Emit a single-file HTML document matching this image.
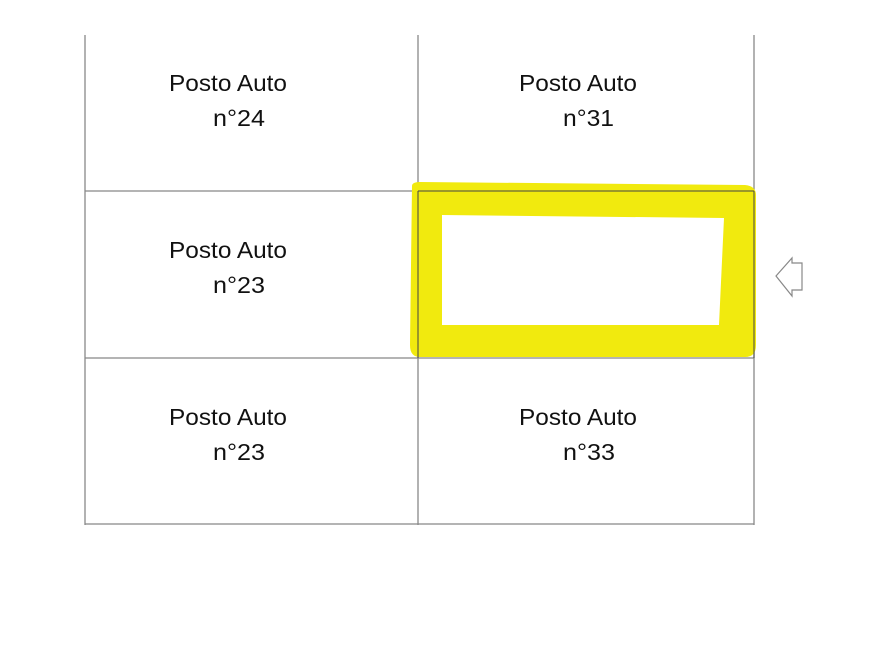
<!DOCTYPE html>
<html><head><style>body{margin:0;background:#fff}svg{display:block}</style></head><body>
<svg width="893" height="670" xmlns="http://www.w3.org/2000/svg" font-family="Liberation Sans, sans-serif" font-size="23" fill="#111">
<g stroke="#888" stroke-width="1.3">
<line x1="85" y1="35" x2="85" y2="525"/>
<line x1="418" y1="35" x2="418" y2="525"/>
<line x1="754" y1="35" x2="754" y2="525"/>
<line x1="85" y1="191" x2="754" y2="191"/>
<line x1="85" y1="358" x2="754" y2="358"/>
<line x1="85" y1="524" x2="754" y2="524"/>
</g>
<path fill="#f1ea0e" fill-rule="evenodd" d="M412 186 Q412 182 420 182 L745 185 Q756 186 756 195 L756 345 Q756 357 745 357 L420 357 Q410 357 410 345 Z M442 215 L724 218 L719 325 L442 325 Z"/>
<g stroke="#444" stroke-width="1" fill="none"><line x1="418" y1="191" x2="754" y2="191"/><line x1="418" y1="191" x2="418" y2="358"/><line x1="754" y1="191" x2="754" y2="358"/></g>
<polygon points="776,276 792,258 792,263 802,263 802,290 792,290 792,296" fill="#fff" stroke="#888" stroke-width="1.2"/>
<g lengthAdjust="spacingAndGlyphs">
<text x="169" y="91" textLength="118" lengthAdjust="spacingAndGlyphs">Posto Auto</text><text x="213" y="126" textLength="52" lengthAdjust="spacingAndGlyphs">n°24</text>
<text x="519" y="91" textLength="118" lengthAdjust="spacingAndGlyphs">Posto Auto</text><text x="563" y="126" textLength="51" lengthAdjust="spacingAndGlyphs">n°31</text>
<text x="169" y="258" textLength="118" lengthAdjust="spacingAndGlyphs">Posto Auto</text><text x="213" y="293" textLength="52" lengthAdjust="spacingAndGlyphs">n°23</text>
<text x="169" y="425" textLength="118" lengthAdjust="spacingAndGlyphs">Posto Auto</text><text x="213" y="460" textLength="52" lengthAdjust="spacingAndGlyphs">n°23</text>
<text x="519" y="425" textLength="118" lengthAdjust="spacingAndGlyphs">Posto Auto</text><text x="563" y="460" textLength="52" lengthAdjust="spacingAndGlyphs">n°33</text>
</g>
</svg>
</body></html>
